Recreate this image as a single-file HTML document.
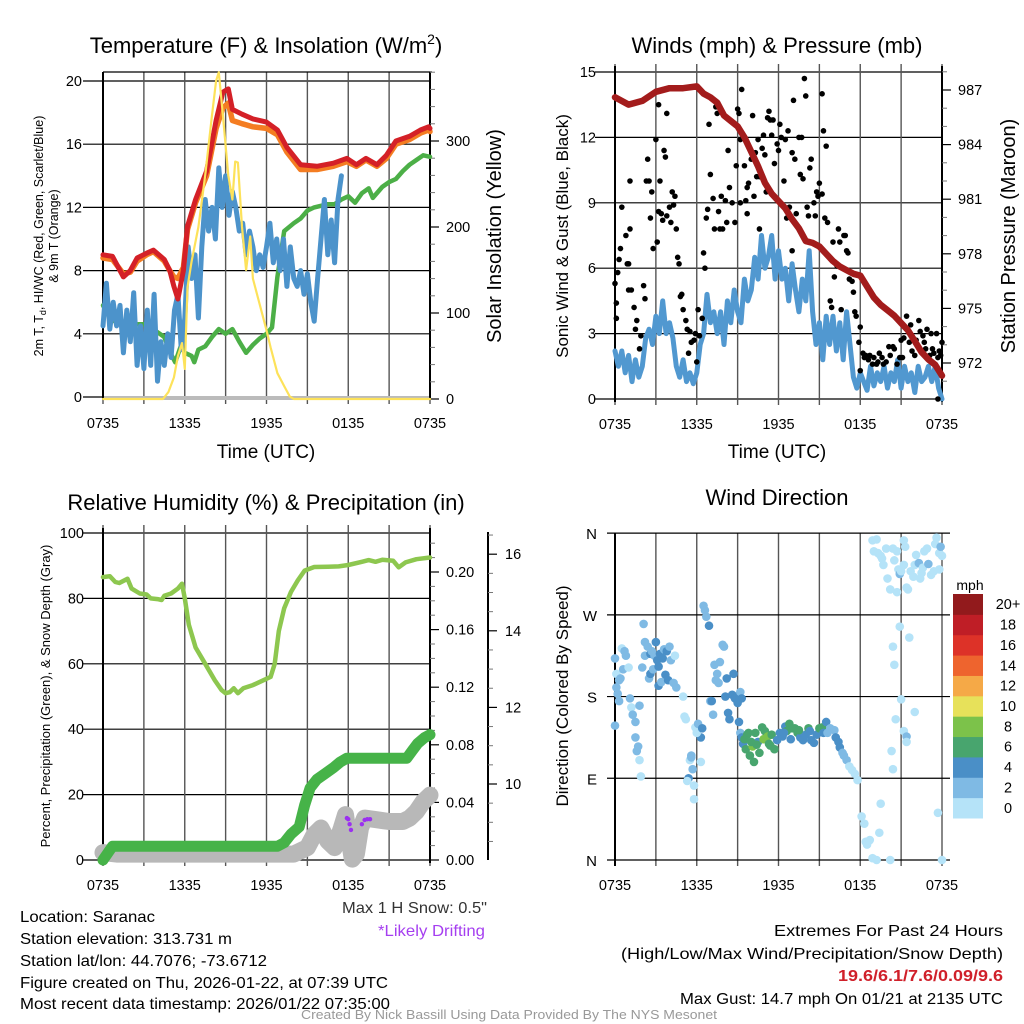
<!DOCTYPE html>
<html><head><meta charset="utf-8">
<style>
html,body{margin:0;padding:0;background:#fff;}
svg{display:block;font-family:"Liberation Sans",sans-serif;}
</style></head>
<body>
<svg id="fig" width="1024" height="1024" viewBox="0 0 1024 1024" xmlns="http://www.w3.org/2000/svg">
<g id="text-layer">
<text x="266" y="53" font-size="22" text-anchor="middle">Temperature (F) &amp; Insolation (W/m<tspan font-size="14" dy="-9">2</tspan><tspan dy="9">)</tspan></text>
<text x="777" y="53" font-size="22" text-anchor="middle">Winds (mph) &amp; Pressure (mb)</text>
<text x="266" y="510" font-size="22" text-anchor="middle">Relative Humidity (%) &amp; Precipitation (in)</text>
<text x="777" y="505" font-size="22" text-anchor="middle">Wind Direction</text>
<text x="266" y="458" font-size="19" text-anchor="middle">Time (UTC)</text>
<text x="777" y="458" font-size="19" text-anchor="middle">Time (UTC)</text>
<text transform="translate(43,236) rotate(-90)" font-size="12.5" text-anchor="middle">2m T, T<tspan font-size="9" dy="3">d</tspan><tspan dy="-3">, HI/WC (Red, Green, Scarlet/Blue)</tspan></text>
<text transform="translate(58,236) rotate(-90)" font-size="12.5" text-anchor="middle">&amp; 9m T (Orange)</text>
<text transform="translate(501,236) rotate(-90)" font-size="20" text-anchor="middle">Solar Insolation (Yellow)</text>
<text transform="translate(568,236) rotate(-90)" font-size="17" text-anchor="middle">Sonic Wind &amp; Gust (Blue, Black)</text>
<text transform="translate(1015,236) rotate(-90)" font-size="20" text-anchor="middle">Station Pressure (Maroon)</text>
<text transform="translate(50,696) rotate(-90)" font-size="13" text-anchor="middle">Percent, Precipitation (Green), &amp; Snow Depth (Gray)</text>
<text transform="translate(568,696) rotate(-90)" font-size="17" text-anchor="middle">Direction (Colored By Speed)</text>
<text x="487" y="913" font-size="16" text-anchor="end" fill="#333" textLength="145" lengthAdjust="spacingAndGlyphs">Max 1 H Snow: 0.5"</text>
<text x="485" y="936" font-size="16" text-anchor="end" fill="#a53ff0" textLength="107" lengthAdjust="spacingAndGlyphs">*Likely Drifting</text>
<text x="20" y="922" font-size="16" textLength="135" lengthAdjust="spacingAndGlyphs">Location: Saranac</text>
<text x="20" y="944" font-size="16" textLength="212" lengthAdjust="spacingAndGlyphs">Station elevation: 313.731 m</text>
<text x="20" y="966" font-size="16" textLength="247" lengthAdjust="spacingAndGlyphs">Station lat/lon: 44.7076; -73.6712</text>
<text x="20" y="988" font-size="16" textLength="368" lengthAdjust="spacingAndGlyphs">Figure created on Thu, 2026-01-22, at 07:39 UTC</text>
<text x="20" y="1009" font-size="16" textLength="370" lengthAdjust="spacingAndGlyphs">Most recent data timestamp: 2026/01/22 07:35:00</text>
<text x="1003" y="936" font-size="16" text-anchor="end" textLength="229" lengthAdjust="spacingAndGlyphs">Extremes For Past 24 Hours</text>
<text x="1003" y="959" font-size="16" text-anchor="end" textLength="382" lengthAdjust="spacingAndGlyphs">(High/Low/Max Wind/Precipitation/Snow Depth)</text>
<text x="1003" y="981" font-size="16" font-weight="bold" text-anchor="end" fill="#d0202a" textLength="165" lengthAdjust="spacingAndGlyphs">19.6/6.1/7.6/0.09/9.6</text>
<text x="1003" y="1004" font-size="16" text-anchor="end" textLength="323" lengthAdjust="spacingAndGlyphs">Max Gust: 14.7 mph On 01/21 at 2135 UTC</text>
<text x="509" y="1019" font-size="13" text-anchor="middle" fill="#999" textLength="416" lengthAdjust="spacingAndGlyphs">Created By Nick Bassill Using Data Provided By The NYS Mesonet</text>
<text x="970" y="590" font-size="14" text-anchor="middle">mph</text>
</g>
</svg>
<script>
// ---------------- DATA ----------------
const timeTickLabels = ["0735","1335","1935","0135","0735"];
const timeTickHours = [0,6,12,18,24];
const gridHours = [0,3,6,9,12,15,18,21,24];
const tempTicks = [0,4,8,12,16,20];
const solarTicks = [0,100,200,300];
const windTicks = [0,3,6,9,12,15];
const pressTicks = [972,975,978,981,984,987];
const pctTicks = [0,20,40,60,80,100];
const precipTicks = [0.00,0.04,0.08,0.12,0.16,0.20];
const snowTicks = [10,12,14,16];
const dirTicks = [0,90,180,270,360];
const dirTickLabels = ["N","E","S","W","N"];
const speedBinLabels = ["0","2","4","6","8","10","12","14","16","18","20+"];

const redT = [0,0.7,1.5,2.0,2.5,3.2,3.7,4.5,4.9,5.2,5.5,5.9,6.2,6.8,7.6,8.3,8.8,9.2,9.5,10.2,11,12,12.8,13.5,14.5,15.7,16.9,17.9,18.6,19.3,20.1,20.8,21.5,22.5,23.3,23.9,24];
const redV = [9.0,8.9,7.6,8.0,8.8,9.1,9.3,8.7,8.0,7.0,6.2,8.0,10.8,12.5,14.3,17.5,19.3,19.5,18.2,17.9,17.6,17.4,16.9,15.8,14.7,14.6,14.8,15.1,14.7,15.1,14.7,15.3,16.2,16.5,16.9,17.1,17.0];
const orangeV = [8.8,8.7,7.8,7.9,8.6,9.0,9.2,8.6,8.0,7.6,7.5,8.2,10.6,12.3,14.0,17.0,18.3,18.6,17.5,17.3,17.1,17.0,16.6,15.5,14.4,14.4,14.6,14.9,14.6,15.0,14.6,15.1,16.0,16.3,16.7,16.9,16.8];
const greenT = [0,0.5,1,1.5,2,2.5,3,3.5,4,4.5,5,5.3,5.7,6,6.5,6.7,7,7.5,8,8.5,9,9.5,10,10.5,11,11.5,12,12.4,12.8,13.3,14,14.5,15,15.5,16,16.5,17,17.5,18,18.5,19,19.5,19.8,20.5,21,21.5,22,22.5,23,23.5,24];
const greenV = [5.8,5.0,4.7,4.5,4.7,4.6,4.6,4.4,4.1,3.8,2.7,2.2,3.2,2.8,2.6,2.2,3.0,3.2,3.8,4.3,4.0,4.3,3.5,2.8,3.3,3.7,4.0,4.4,7.6,10.5,11.0,11.3,11.8,12.0,12.1,12.2,12.2,12.5,12.7,12.3,12.9,13.2,12.6,13.3,13.6,13.8,14.3,14.7,15.0,15.3,15.2];
const blueStepHours = 0.25;
const blueV = [4.5,7.2,4.3,6.0,4.5,5.8,2.8,5.5, 3.5,6.6,2.0,4.5,1.8,5.5,2.0,6.5, 1.0,3.5,2.0,4.0,2.5,5.5,6.5,3.0, 5.0,9.5,7.5,9.0,5.0,9.5,12.5,10.5, 12.0,10.0,14.5,12.0,14.0,11.5,13.0,12.0, 10.5,11.0,9.0,10.5,9.5,8.0,9.0,8.2, 9.5,11.0,8.5,10.0,8.0,10.0,7.0,9.5, 7.5,7.0,8.0,6.5,7.8,6.0,4.8,7.5, 10.0,12.5,9.0,11.2,8.5,12.5,14.0];
const solarT = [0,4.4,4.8,5.2,5.5,5.8,6.0,6.2,6.5,7.0,7.5,8.0,8.3,8.5,8.8,9.2,9.5,9.7,9.9,10.2,10.5,10.8,11.0,11.5,12.0,12.3,12.8,13.3,13.7,14.0,24];
const solarV = [0,0,8,25,50,65,35,130,160,200,260,330,370,380,330,260,232,276,275,200,150,189,140,110,80,60,30,15,3,0,0];

const windStepHours = 0.25;
const windV = [2.2,1.5,2.2,1.2,2.0,0.8,1.8,1.0, 1.5,2.8,3.2,2.5,3.8,3.0,4.5,3.0, 3.5,2.8,1.5,1.0,1.8,0.8,1.2,0.7, 1.2,2.5,3.0,4.8,3.5,4.0,3.0,4.0, 2.5,4.5,3.5,5.0,4.0,3.5,5.5,4.5, 5.0,6.5,5.5,7.5,6.0,6.5,7.5,5.5, 6.8,5.5,6.0,4.5,6.2,5.0,4.0,5.5, 4.5,6.8,4.0,2.5,3.5,1.8,3.8,2.5, 3.8,2.2,3.5,1.8,4.0,2.5,1.0,0.5, 1.2,0.8,0.4,1.5,0.6,1.2,0.8,1.5, 0.5,1.2,0.8,1.8,0.5,1.5,0.8,1.2, 0.3,1.5,0.8,1.0,1.5,0.8,1.5,0.5, 0];
const gustT = [0,0.1,0.1,0.2,0.3,0.4,0.5,0.8,0.9,1.0,1.1,1.1,1.0,1.2,1.4,1.5,1.6,1.8,1.9,2.1,2.2,2.3,2.4,2.5,2.6,2.7,2.8,3.0,3.1,3.2,3.2,3.3,3.4,3.5,3.6,3.7,3.8,3.8,4.0,4.1,4.2,4.3,4.4,4.5,4.6,4.7,4.8,4.9,5.0,5.2,5.3,5.4,5.5,5.6,5.8,5.9,6.0,6.1,6.2,6.4,6.5,6.6,6.7,6.8,6.9,7.0,7.2,7.3,7.4,7.5,7.6,7.7,7.8,7.9,8.1,8.2,8.3,8.4,8.6,8.8,8.9,9.0,9.1,9.2,9.2,9.3,9.5,9.6,9.7,9.7,9.8,10.0,10.1,10.2,10.3,10.4,10.5,10.6,10.6,10.8,10.9,11.0,11.1,11.2,11.3,11.4,11.5,11.6,11.7,11.9,12.0,12.1,12.2,12.4,12.5,12.6,12.7,12.8,13.0,13.0,13.1,13.2,13.3,13.5,13.6,13.7,13.8,13.9,14.0,14.1,14.2,14.3,14.4,14.6,14.7,14.8,14.9,15.0,15.2,15.2,15.3,15.4,15.5,15.6,15.8,15.9,16.0,16.1,16.3,16.4,16.5,16.6,16.8,16.9,17.0,17.1,17.2,17.4,17.5,17.6,17.7,17.9,18.0,18.0,18.2,18.3,18.4,18.6,18.7,18.9,19.0,19.2,19.3,19.4,19.6,19.7,19.9,20.1,20.2,20.4,20.5,20.7,20.9,21.0,21.1,21.2,21.4,21.6,21.7,21.8,22.0,22.1,22.3,22.4,22.6,22.7,22.8,22.9,23.1,23.2,23.3,23.4,23.6,23.7,23.8,23.9,24.0,23.7];
const gustV = [5.3,3.7,4.4,5.8,6.4,6.9,8.8,7.5,6.2,6.2,10.0,7.8,5.0,5.0,4.2,3.2,3.6,2.3,2.9,5.2,4.6,10.0,11.0,10.0,8.3,9.5,6.9,11.9,7.2,13.5,8.6,10.0,8.5,8.2,11.4,11.1,13.1,8.4,8.8,8.1,9.5,8.9,9.3,7.8,6.5,6.2,4.7,4.8,4.1,3.6,3.2,2.1,3.1,2.6,2.7,3.0,1.7,4.1,2.9,3.7,6.7,6.0,8.3,8.7,12.6,10.3,9.2,7.8,13.4,13.1,8.6,7.8,9.3,7.8,9.1,8.1,11.4,9.7,9.0,8.1,10.7,13.3,13.1,11.9,9.0,14.2,10.7,9.1,9.7,8.5,9.9,11.0,13.0,9.3,11.3,10.2,11.9,10.2,7.8,11.5,12.1,11.2,9.5,12.9,13.2,12.8,12.1,12.8,10.8,11.7,11.4,12.6,12.0,10.0,11.9,8.3,12.3,8.8,11.3,6.8,13.7,11.0,8.5,12.0,10.3,12.0,10.1,14.7,13.9,8.8,8.4,10.6,11.0,9.0,8.4,9.5,9.3,9.9,14.0,9.4,12.3,8.3,11.6,8.1,4.5,4.2,7.2,5.6,6.1,7.8,7.2,4.1,7.5,7.5,6.8,6.7,5.5,5.4,4.9,4.0,3.8,2.6,3.3,1.3,2.1,1.9,2.0,1.8,2.0,1.6,1.9,1.6,1.7,2.1,1.9,1.6,1.7,2.4,2.0,2.4,2.3,1.6,1.9,2.7,1.9,2.8,3.8,2.6,3.4,2.2,2.0,2.7,3.6,3.1,2.9,2.6,2.3,3.2,2.0,3.0,2.3,2.1,3.0,1.9,2.2,2.0,2.6,0];
const pressT = [0,1,2,3,4,5,6,6.5,7,7.5,8,8.5,9,9.5,10,10.5,11,11.5,12,12.5,13,13.5,14,14.5,15,15.5,16,16.5,17,17.5,18,18.5,19,19.5,20,20.5,21,21.5,22,22.5,23,23.5,24];
const pressV = [986.6,986.2,986.4,986.9,987.1,987.1,987.2,986.8,986.6,986.3,985.6,985.3,985.0,984.4,983.6,982.8,981.9,981.3,980.9,980.5,979.9,979.4,978.7,978.6,978.4,978.0,977.6,977.3,977.1,976.9,976.8,976.2,975.6,975.2,974.9,974.6,974.2,973.8,973.2,972.6,972.2,971.9,971.3];

const rhT = [0,0.5,0.9,1.2,1.8,2.1,2.7,3.2,3.5,4,4.3,4.5,5,5.5,5.8,6,6.3,6.8,7.5,8.2,8.7,9,9.3,9.6,9.9,10.3,11,11.8,12.3,12.6,12.9,13.3,13.8,14.3,14.8,15.5,16.5,17.3,18,19,19.5,20,20.5,21.3,21.7,22.2,23,24];
const rhV = [86.5,86.8,85,84.7,86,83,81.5,81.2,80,79.8,79.5,80.8,81.5,83,84.5,80,72,65,60,55,52,51,51.3,52.5,51,52.5,53.5,55,56,60,70,77,82,85.5,88.5,89.6,89.7,89.8,90.2,91.2,91.7,91.2,91.8,91.5,89.5,91,92,92.5];
const precipT = [0,0.7,12.8,13.3,13.8,14.4,14.8,15.2,15.7,16.3,16.9,17.4,17.9,22.3,22.7,23.1,23.6,24];
const precipV = [0.0,0.0095,0.0095,0.012,0.018,0.023,0.038,0.05,0.056,0.06,0.064,0.068,0.0707,0.0707,0.076,0.081,0.085,0.087];
const snowT = [0,1,6,12,14,15,15.5,16,16.5,17,17.5,17.8,18,18.3,18.6,18.9,19.2,20,21,22,22.5,23,23.5,24];
const snowV = [8.21,8.17,8.17,8.17,8.17,8.34,8.68,8.85,8.51,8.34,8.85,9.2,8.68,8.04,8.17,8.85,9.11,9.07,9.02,9.02,9.11,9.28,9.54,9.71];
const driftT = [17.9,18.0,18.1,18.2,19.0,19.2,19.4,19.6];
const driftV = [9.11,9.08,8.95,8.8,8.95,9.06,9.08,9.08];

const dirT = [0,0,0.1,0.1,0.3,0.2,0.3,0.4,0.5,0.6,0.7,0.8,1.0,1.1,1.2,1.3,1.5,1.5,1.6,1.7,1.8,1.8,1.9,2.1,2.0,2.2,2.2,2.4,2.6,2.5,2.6,2.7,2.8,2.9,3.0,3.1,3.2,3.2,3.3,3.4,3.5,3.6,3.7,3.8,3.9,4.0,4.1,4.3,4.4,4.5,
5.0,5.1,5.2,5.5,5.6,5.6,5.4,5.3,5.7,5.8,5.8,5.9,6.1,6.3,6.3,6.0,6.4,6.5,6.6,6.7,6.9,7.0,7.1,7.2,7.4,7.3,7.5,7.6,7.7,7.9,8.0,8.1,8.2,8.3,8.4,8.6,8.7,8.9,9.1,9.2,9.3,8.8,9.0,9.1,9.2,
9.3,9.4,9.5,9.6,9.7,9.8,9.9,10.1,10.2,10.3,10.5,10.6,10.8,11.0,11.2,11.4,11.5,11.7,11.9,12.1,12.3,12.5,12.6,12.8,12.9,13.2,13.4,13.6,13.8,14.0,14.2,14.4,14.6,14.8,15.0,15.2,15.3,15.5,15.6,15.8,16.1,16.2,16.4,16.5,16.7,16.8,17.0,17.2,17.4,17.6,17.8,
10.0,10.4,10.9,11.3,12.4,13.0,13.5,14.3,
18.1,18.3,18.4,18.5,18.7,18.9,19.2,19.5,19.4,20.2,20.3,20.4,20.6,20.5,20.4,20.9,21.0,20.7,21.2,21.4,21.4,21.6,22.0,23.7,24.0,
18.9,19.2,19.0,19.3,19.5,19.6,19.7,19.9,20.0,20.2,20.4,20.5,20.7,20.8,20.9,21.0,21.2,21.3,21.2,21.4,21.5,21.7,21.9,22.0,22.1,22.3,22.4,22.5,22.6,22.7,22.9,23.0,23.2,23.4,23.5,23.6,23.8,23.9,24.0,23.8];
const dirV = [222,148,190,205,198,183,175,200,233,210,230,225,212,178,168,160,135,152,120,125,110,170,92,260,212,225,240,235,227,200,205,230,210,225,240,220,213,192,227,196,222,232,204,230,198,235,220,195,225,190,
180,158,155,110,113,115,90,87,100,82,67,146,150,135,108,140,145,280,275,268,258,175,175,160,198,215,205,195,218,237,235,180,200,162,155,182,205,180,178,185,178,178,173,152,140,
135,128,133,122,138,140,115,125,108,140,130,118,146,142,136,126,138,122,132,140,136,147,142,150,133,145,140,135,132,138,145,132,129,138,145,146,140,152,140,145,143,135,130,124,118,115,110,103,99,95,88,
130,127,133,128,140,145,143,142,
48,40,20,17,22,2,0,62,30,0,120,100,155,215,235,257,177,295,142,136,130,245,163,52,0,
352,353,340,338,335,332,325,343,310,298,343,330,340,320,315,318,325,345,352,300,298,318,312,325,336,327,310,316,322,340,343,326,314,318,348,355,338,345,335,320];
const dirSpeed = [1,1,1,0,1,1,1,1,0,1,1,1,0,1,0,1,1,1,1,1,0,1,0,1,1,1,1,1,2,1,2,1,1,1,2,2,2,2,2,1,2,1,2,2,2,1,1,1,0,1,
0,0,0,0,1,1,2,0,1,0,0,0,1,2,0,0,2,1,1,1,2,1,2,1,1,1,1,1,1,1,1,2,2,2,2,2,2,2,1,1,2,2,2,2,1,
2,2,3,3,3,3,3,4,3,3,2,3,3,3,4,3,3,3,2,2,2,2,3,3,2,3,3,2,2,2,3,2,2,2,3,3,2,2,1,1,1,2,2,2,1,1,1,0,0,0,0,
3,3,4,3,2,3,3,2,
0,0,0,0,0,0,0,0,0,0,0,0,0,0,0,0,0,0,0,1,0,0,0,0,0,
0,0,0,0,0,0,0,0,0,0,0,0,0,0,1,0,0,0,0,0,0,0,0,0,0,1,0,0,0,0,0,1,0,0,0,0,0,1,0,0];
const speedColors = ["#b5e3f8","#7fbae4","#4a8fc7","#48a56e","#7cc24a","#e7e15a","#f5a947","#ee642e","#dd3228","#bf1e26","#921a1c"];

// --------------- HELPERS ----------------
const NS = "http://www.w3.org/2000/svg";
const svg = document.getElementById("fig");
const textLayer = document.getElementById("text-layer");
function mk(tag, attrs, parent) {
  const el = document.createElementNS(NS, tag);
  for (const k in attrs) el.setAttribute(k, attrs[k]);
  (parent || svg).insertBefore(el, textLayer);
  return el;
}
function mkText(str, attrs) {
  const el = document.createElementNS(NS, "text");
  for (const k in attrs) el.setAttribute(k, attrs[k]);
  el.textContent = str;
  svg.appendChild(el);
  return el;
}
const PW = 327;
function xAxis(x0) { return h => x0 + h * PW / 24; }
const x1 = xAxis(103), x2 = xAxis(615);
const yTemp = v => 397 - v * 15.8;
const ySolar = v => 399 - v * 0.86;
const yWind = v => 399 - v * 21.8;
const yPress = p => 90 + (987 - p) * 18.2;
const yPct = v => 860 - v * 3.27;
const yPrecip = v => 860 - v * 1440;
const ySnow = v => 784 - (v - 10) * 38.3;
const yDir = d => 860 - d * 0.908;

function ptsStr(ts, vs, fx, fy) { return ts.map((t, i) => fx(t).toFixed(1) + "," + fy(vs[i]).toFixed(1)).join(" "); }

// ---------------- GRIDS ----------------
function panelGrid(name, fx, top, bottom, yVals, fy, left, right) {
  yVals.forEach(v => {
    const g = mk("line", {x1: left - 20, x2: right, y1: fy(v), y2: fy(v), stroke: "#000", "stroke-width": 1.2});
    
    
  });
  gridHours.forEach(h => {
    const g = mk("line", {x1: fx(h), x2: fx(h), y1: top - 8, y2: bottom + 6, stroke: "#555", "stroke-width": 1.4});
    
    
  });
  timeTickHours.forEach((h, i) => {
    const t = mkText(timeTickLabels[i], {x: fx(h), y: bottom + 30, "font-size": 14.5, "text-anchor": "middle"});
    
    
  });
}
function leftLabels(name, vals, fy, x, fmt) {
  vals.forEach(v => {
    const t = mkText(fmt ? fmt(v) : String(v), {x: x, y: fy(v) + 5, "font-size": 14.5, "text-anchor": "end"});
    
    
  });
}
function rightAxis(name, vals, fy, x, lx, fmt, minorVals) {
  vals.forEach(v => {
    const tk = mk("line", {x1: x, x2: x + 9, y1: fy(v), y2: fy(v), stroke: "#000", "stroke-width": 1.2});
    
    
    const t = mkText(fmt ? fmt(v) : String(v), {x: lx, y: fy(v) + 5, "font-size": 14.5});
    
    
  });
  (minorVals || []).forEach(v => {
    const tk = mk("line", {x1: x, x2: x + 5, y1: fy(v), y2: fy(v), stroke: "#777", "stroke-width": 1});
    
    
  });
}
function spine(name, x, ya, yb, w) {
  const l = mk("line", {x1: x, x2: x, y1: ya, y2: yb, stroke: "#000", "stroke-width": w});
  
  
}

// Panel 1 grid
panelGrid("temperature", x1, 80, 398, tempTicks, yTemp, 103, 430);
leftLabels("temperature-y", tempTicks, yTemp, 82);
{ const tl = mk("line", {x1: 103, x2: 432, y1: 72, y2: 72, stroke: "#000", "stroke-width": 1.2});
  
   }
{ const bb = mk("rect", {x: 103, y: 396, width: 327, height: 4, fill: "#bbb"});
  
   }
spine("temperature-left-spine", 103, 72, 400, 2);
spine("temperature-right-spine", 430, 72, 400, 2);
rightAxis("solar-y", solarTicks, ySolar, 430, 446, null, [20,40,60,80,120,140,160,180,220,240,260,280,320,340,360,380]);

// Panel 2 grid
panelGrid("wind", x2, 72, 399, windTicks, yWind, 615, 942);
leftLabels("wind-y", windTicks, yWind, 596);
spine("wind-left-spine", 615, 66, 402, 2);
spine("wind-right-spine", 942, 66, 402, 2);
rightAxis("pressure-y", pressTicks, yPress, 942, 958, null, [973,974,976,977,979,980,982,983,985,986,988,971]);

// Panel 3 grid
panelGrid("humidity", x1, 533, 860, pctTicks, yPct, 103, 430);
leftLabels("humidity-y", pctTicks, yPct, 84);
spine("humidity-left-spine", 103, 528, 863, 2);
spine("humidity-right-spine", 430, 528, 863, 2);
rightAxis("precip-y", precipTicks, yPrecip, 430, 446, v => v.toFixed(2), [0.01,0.02,0.03,0.05,0.06,0.07,0.09,0.10,0.11,0.13,0.14,0.15,0.17,0.18,0.19,0.21,0.22]);
spine("snow-axis-line", 488, 532, 860, 2);
rightAxis("snow-y", snowTicks, ySnow, 488, 505, null, [8.5,9,9.5,10.5,11,11.5,12.5,13,13.5,14.5,15,15.5,16.5]);

// Panel 4 grid
gridHours.forEach(h => {
  const g = mk("line", {x1: x2(h), x2: x2(h), y1: 533, y2: 866, stroke: "#555", "stroke-width": 1.4});
  
  
});
dirTicks.forEach((d, i) => {
  const g = mk("line", {x1: 607, x2: 950, y1: yDir(d), y2: yDir(d), stroke: "#000", "stroke-width": 1.2});
  
  
  const t = mkText(dirTickLabels[i], {x: 597, y: yDir(d) + 6, "font-size": 15, "text-anchor": "end"});
  
  
});
spine("direction-left-spine", 615, 533, 866, 2);
timeTickHours.forEach((h, i) => {
  const t = mkText(timeTickLabels[i], {x: x2(h), y: 890, "font-size": 14.5, "text-anchor": "middle"});
  
  
});

// ---------------- SERIES ----------------
function line(name, ts, vs, fx, fy, color, w) {
  const p = mk("polyline", {points: ptsStr(ts, vs, fx, fy), fill: "none", stroke: color, "stroke-width": w, "stroke-linejoin": "round", "stroke-linecap": "round"});
  
  
  return p;
}
const blueT = blueV.map((v, i) => i * blueStepHours);
const windT = windV.map((v, i) => i * windStepHours);

// Panel 1
line("dewpoint-line", greenT, greenV, x1, yTemp, "#4caf47", 4.5);
line("windchill-line", blueT, blueV, x1, yTemp, "#4c93cb", 5);
line("temp-9m-line", redT, orangeV, x1, yTemp, "#f47d22", 5.5);
line("temp-2m-line", redT, redV, x1, yTemp, "#d42027", 5);
line("solar-line", solarT, solarV, x1, ySolar, "#fde25a", 2.2);

// Panel 2
line("wind-speed-line", windT, windV, x2, yWind, "#5198d0", 5);
gustT.forEach((t, i) => {
  const c = mk("circle", {cx: x2(t), cy: yWind(gustV[i]), r: 2.8, fill: "#000"});
  
  
});
line("pressure-line", pressT, pressV, x2, yPress, "#a31c1c", 6.5);

// Panel 3
line("snow-depth-line", snowT, snowV, x1, ySnow, "#b8b8b8", 17);
line("precip-line", precipT, precipV, x1, yPrecip, "#46b348", 11);
line("humidity-line", rhT, rhV, x1, yPct, "#8dc74f", 4.5);
driftT.forEach((t, i) => {
  const c = mk("circle", {cx: x1(t), cy: ySnow(driftV[i]), r: 2.2, fill: "#9b30f0"});
  
  
});

// Panel 4
dirT.forEach((t, i) => {
  const c = mk("circle", {cx: x2(t), cy: yDir(dirV[i]), r: 4.3, fill: speedColors[dirSpeed[i]]});
  
  
});

// Colorbar
const cbTop = 594, cbBin = (818 - 594) / speedBinLabels.length;
speedBinLabels.forEach((lab, i) => {
  const y = cbTop + (speedBinLabels.length - 1 - i) * cbBin;
  const r = mk("rect", {x: 953, y: y, width: 30, height: cbBin + 0.5, fill: speedColors[i]});
  
  
  const t = mkText(lab, {x: 1008, y: y + cbBin / 2 + 5, "font-size": 14.5, "text-anchor": "middle"});
  
  
});
</script>
</body></html>
